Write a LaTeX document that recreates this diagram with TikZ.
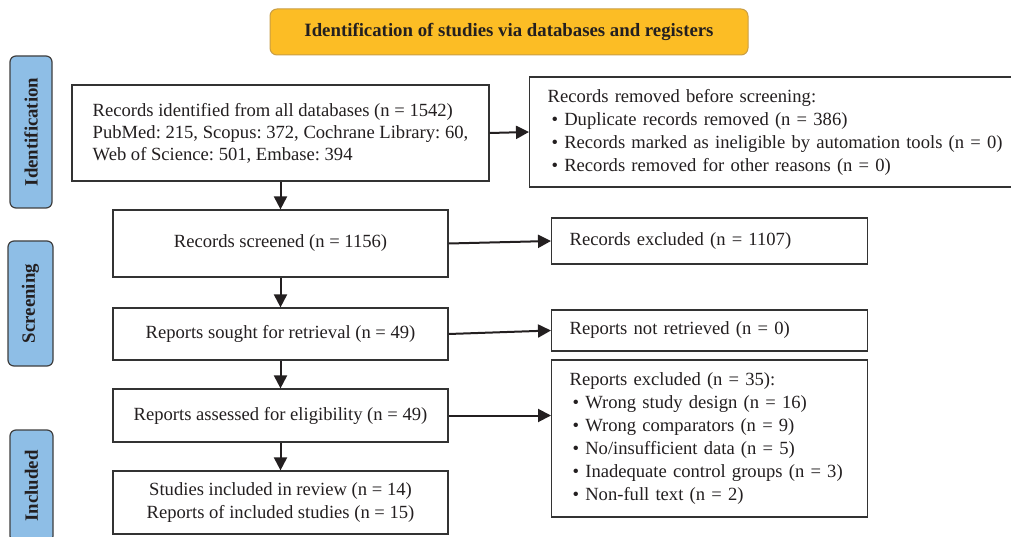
\documentclass[tikz,border=0pt]{standalone}
\usepackage{fontspec}
\setmainfont{Liberation Serif}
\usetikzlibrary{arrows.meta}
\definecolor{titlefill}{HTML}{FCBD25}
\definecolor{titleline}{HTML}{C99E45}
\definecolor{sidefill}{HTML}{8EBEE6}
\definecolor{sideline}{HTML}{3F3F3F}
\definecolor{boxline}{HTML}{333333}
\definecolor{ink}{HTML}{231F20}
\frenchspacing
\tikzset{
  mainbox/.style={draw=boxline, line width=1.2pt, fill=white, text=ink, inner sep=0pt, align=center,
    font=\frenchspacing\fontsize{18.6}{23}\selectfont},
  leftbox/.style={mainbox, align=left, inner xsep=18pt, anchor=west},
  sidelabel/.style={draw=sideline, line width=1.2pt, fill=sidefill, rounded corners=6pt, rotate=90,
    text=ink, inner sep=0pt, font=\fontsize{18.8}{22}\selectfont\bfseries},
  titlebox/.style={draw=titleline, line width=1pt, fill=titlefill, rounded corners=7pt, text=ink,
    inner sep=0pt, font=\fontsize{18.8}{22}\selectfont\bfseries},
  flow/.style={draw=ink, line width=2pt, -{Triangle[length=13pt,width=13pt]}},
}
\newcommand{\bul}{\textbullet\ }
\begin{document}
\begin{tikzpicture}[x=1pt,y=-1pt]
\useasboundingbox (0,0) rectangle (1011,537);
\fill[white] (0,0) rectangle (1011,537);

\node[titlebox, minimum width=478pt, minimum height=46pt] (title) at (509,32) {Identification of studies via databases and registers};

\node[sidelabel, minimum width=152pt, minimum height=42pt] (idlab) at (31,132) {Identification};
\node[sidelabel, minimum width=125pt, minimum height=45pt] (scrlab) at (30.5,303.5) {Screening};
\node[sidelabel, minimum width=112pt, minimum height=43pt] (inclab) at (31.5,486) {Included};

\node[mainbox, align=left, minimum width=417pt, minimum height=96pt, font=\frenchspacing\fontsize{18.6}{22}\selectfont] (ident) at (280.5,133)
  {Records identified from all databases (n = 1542)\\PubMed: 215, Scopus: 372, Cochrane Library: 60,\\Web of Science: 501, Embase: 394};
\node[leftbox, text width=470pt, minimum height=110pt] (removed) at (529,132)
  {Records removed before screening:\\\hspace*{4pt}\bul Duplicate records removed (n = 386)\\\hspace*{4pt}\bul Records marked as ineligible by automation tools (n = 0)\\\hspace*{4pt}\bul Records removed for other reasons (n = 0)};

\node[mainbox, minimum width=335pt, minimum height=67pt] (screen) at (280.5,243.5) {Records screened (n = 1156)};
\node[leftbox, text width=280pt, minimum height=46pt] (excl) at (551,241) {Records excluded (n = 1107)};

\node[mainbox, minimum width=335pt, minimum height=52pt] (sought) at (280.5,334) {Reports sought for retrieval (n = 49)};
\node[leftbox, text width=280pt, minimum height=41pt] (notret) at (551,330.5) {Reports not retrieved (n = 0)};

\node[mainbox, minimum width=335pt, minimum height=53pt] (assess) at (280.5,415.5) {Reports assessed for eligibility (n = 49)};
\node[leftbox, text width=280pt, minimum height=157pt] (repexcl) at (551,438.5)
  {Reports excluded (n = 35):\\\hspace*{3pt}\bul Wrong study design (n = 16)\\\hspace*{3pt}\bul Wrong comparators (n = 9)\\\hspace*{3pt}\bul No/insufficient data (n = 5)\\\hspace*{3pt}\bul Inadequate control groups (n = 3)\\\hspace*{3pt}\bul Non-full text (n = 2)};

\node[mainbox, minimum width=335pt, minimum height=63pt] (incl) at (280.5,502.5) {Studies included in review (n = 14)\\Reports of included studies (n = 15)};

\draw[flow] (ident.south) -- (screen.north);
\draw[flow] (screen.south) -- (sought.north);
\draw[flow] (sought.south) -- (assess.north);
\draw[flow] (assess.south) -- (incl.north);

\draw[flow] (ident.east) -- (removed.west);
\draw[flow] (screen.east) -- (excl.west);
\draw[flow] (sought.east) -- (notret.west);
\draw[flow] (assess.east) -- (assess.east -| repexcl.west);
\end{tikzpicture}
\end{document}
